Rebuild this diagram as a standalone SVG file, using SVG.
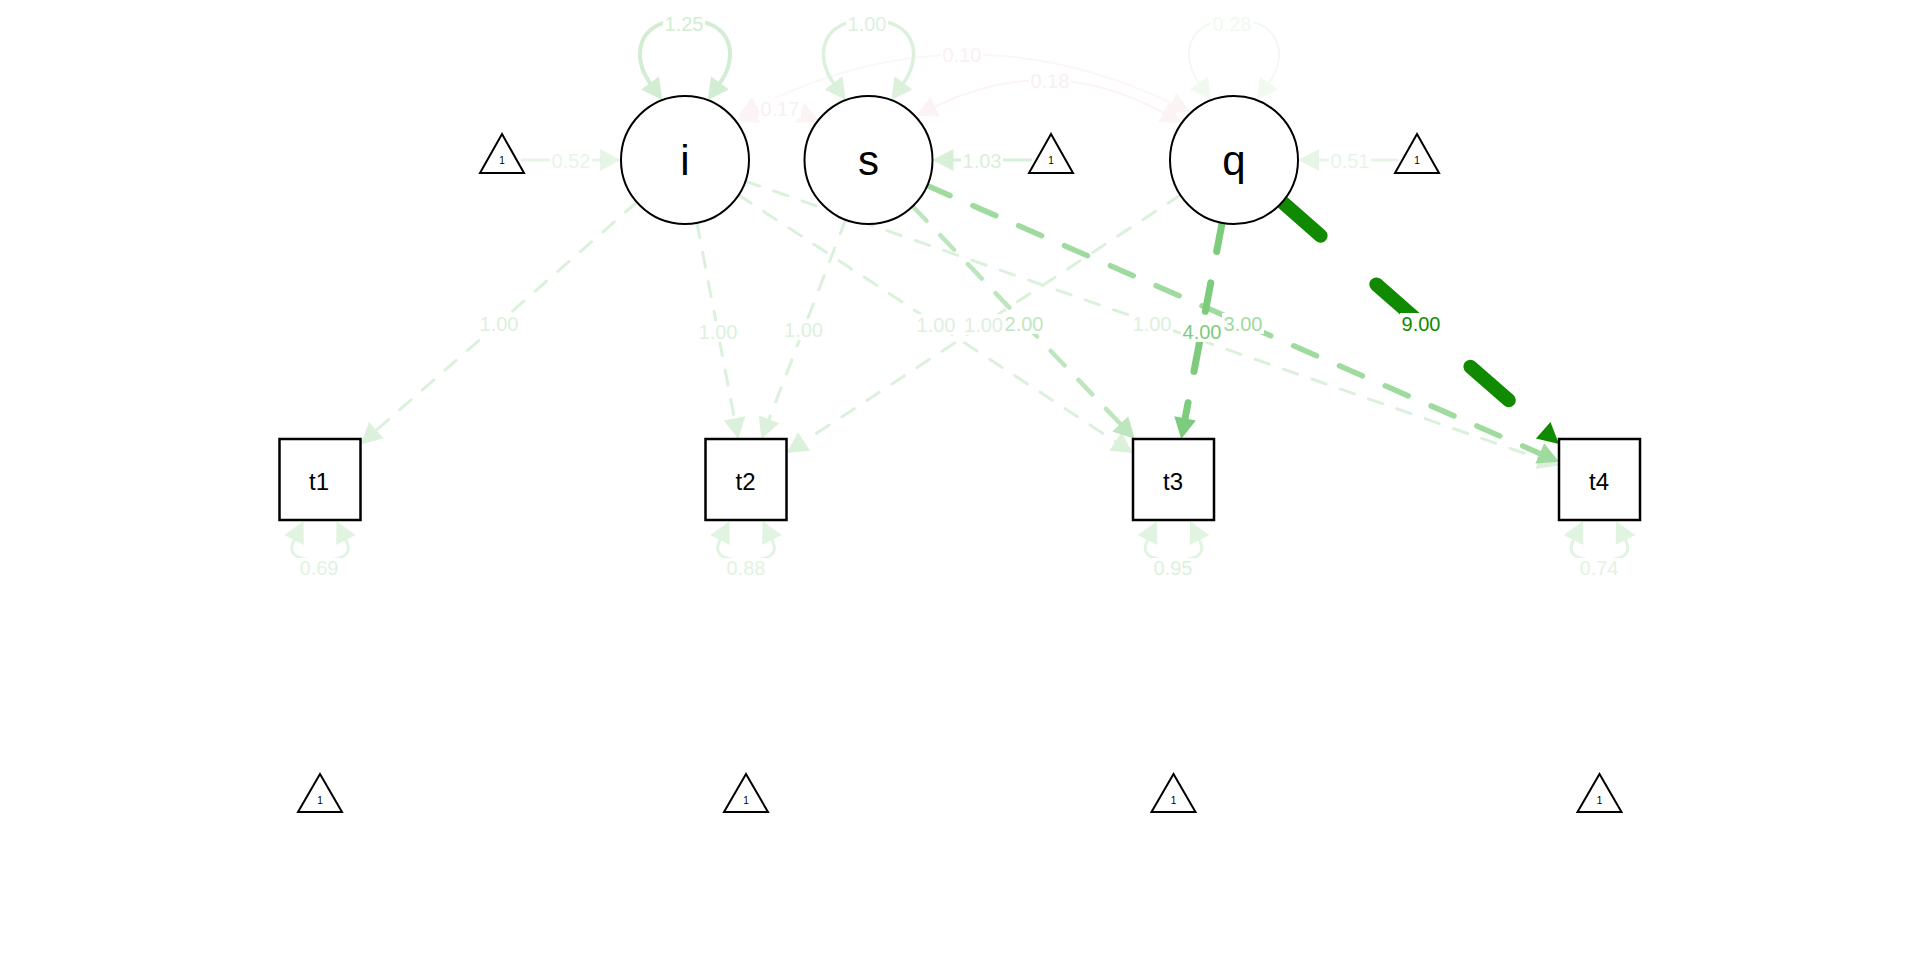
<svg xmlns="http://www.w3.org/2000/svg" width="1920" height="960" viewBox="0 0 1920 960">
  <style>
    text { font-family: "Liberation Sans", Arial, sans-serif; }
    .node { fill: #ffffff; stroke: #000000; stroke-width: 2; }
    .box { fill: #ffffff; stroke: #000000; stroke-width: 2.5; }
    .tri { fill: #ffffff; stroke: #000000; stroke-width: 2; stroke-linejoin: miter; }
    .lat { font-size: 42px; text-anchor: middle; fill: #000; }
    .obs { font-size: 24px; text-anchor: middle; fill: #000; }
    .one { font-size: 10px; text-anchor: middle; fill: #000; }
    .lbl { font-size: 20px; text-anchor: middle; }
    .bg { fill: #ffffff; }
    .e { fill: none; stroke-linecap: round; }
  </style>
  <defs>
    <marker id="m9" markerUnits="userSpaceOnUse" markerWidth="21" markerHeight="22" viewBox="0 -11 21 22" refX="0" refY="0" orient="auto-start-reverse" overflow="visible"><path d="M0,-11 L21,0 L0,11 Z" fill="#108a00"/></marker>
    <marker id="m4" markerUnits="userSpaceOnUse" markerWidth="21" markerHeight="22" viewBox="0 -11 21 22" refX="0" refY="0" orient="auto-start-reverse" overflow="visible"><path d="M0,-11 L21,0 L0,11 Z" fill="#7dcb7d"/></marker>
    <marker id="m3" markerUnits="userSpaceOnUse" markerWidth="21" markerHeight="22" viewBox="0 -11 21 22" refX="0" refY="0" orient="auto-start-reverse" overflow="visible"><path d="M0,-11 L21,0 L0,11 Z" fill="#9fda9f"/></marker>
    <marker id="m2" markerUnits="userSpaceOnUse" markerWidth="21" markerHeight="22" viewBox="0 -11 21 22" refX="0" refY="0" orient="auto-start-reverse" overflow="visible"><path d="M0,-11 L21,0 L0,11 Z" fill="#bee6be"/></marker>
    <marker id="m1" markerUnits="userSpaceOnUse" markerWidth="21" markerHeight="22" viewBox="0 -11 21 22" refX="0" refY="0" orient="auto-start-reverse" overflow="visible"><path d="M0,-11 L21,0 L0,11 Z" fill="#dcf1dc"/></marker>
    <marker id="mi1" markerUnits="userSpaceOnUse" markerWidth="21" markerHeight="22" viewBox="0 -11 21 22" refX="0" refY="0" orient="auto-start-reverse" overflow="visible"><path d="M0,-11 L21,0 L0,11 Z" fill="#d8efd8"/></marker>
    <marker id="mi0" markerUnits="userSpaceOnUse" markerWidth="21" markerHeight="22" viewBox="0 -11 21 22" refX="0" refY="0" orient="auto-start-reverse" overflow="visible"><path d="M0,-11 L21,0 L0,11 Z" fill="#e7f5e7"/></marker>
    <marker id="mv125" markerUnits="userSpaceOnUse" markerWidth="21" markerHeight="22" viewBox="0 -11 21 22" refX="0" refY="0" orient="auto-start-reverse" overflow="visible"><path d="M0,-11 L21,0 L0,11 Z" fill="#d3edd3"/></marker>
    <marker id="mv28" markerUnits="userSpaceOnUse" markerWidth="21" markerHeight="22" viewBox="0 -11 21 22" refX="0" refY="0" orient="auto-start-reverse" overflow="visible"><path d="M0,-11 L21,0 L0,11 Z" fill="#f1f9f1"/></marker>
    <marker id="mr" markerUnits="userSpaceOnUse" markerWidth="21" markerHeight="22" viewBox="0 -11 21 22" refX="0" refY="0" orient="auto-start-reverse" overflow="visible"><path d="M0,-11 L21,0 L0,11 Z" fill="#e1f3e1"/></marker>
    <marker id="mc" markerUnits="userSpaceOnUse" markerWidth="21" markerHeight="22" viewBox="0 -11 21 22" refX="0" refY="0" orient="auto-start-reverse" overflow="visible"><path d="M0,-11 L21,0 L0,11 Z" fill="#fcf4f4"/></marker>
  </defs>

  <rect width="1920" height="960" fill="#ffffff"/>

  <!-- connectors -->
  <g id="edges">
    <!-- covariances between latent factors -->
    <path class="e" d="M757 106.6 Q962 4 1171.5 103" stroke="#fdf6f6" stroke-width="2" marker-start="url(#mc)" marker-end="url(#mc)"/>
    <path class="e" d="M935 106.5 Q1050 50.4 1163.3 112.7" stroke="#fcf4f4" stroke-width="2" marker-start="url(#mc)" marker-end="url(#mc)"/>
    <path class="e" d="M756 113 Q778 104 800 113" stroke="#fcf4f4" stroke-width="2" marker-start="url(#mc)" marker-end="url(#mc)"/>

    <!-- latent variances -->
    <path class="e" d="M650 83 C632 58, 635 20, 685 20 C735 20, 738 58, 720 83" stroke="#d3edd3" stroke-width="4" marker-start="url(#mv125)" marker-end="url(#mv125)"/>
    <path class="e" d="M833.5 83 C815.5 58, 818.5 20, 868.5 20 C918.5 20, 921.5 58, 903.5 83" stroke="#dcf1dc" stroke-width="3.5" marker-start="url(#m1)" marker-end="url(#m1)"/>
    <path class="e" d="M1199 83 C1181 58, 1184 20, 1234 20 C1284 20, 1287 58, 1269 83" stroke="#f1f9f1" stroke-width="2" marker-start="url(#mv28)" marker-end="url(#mv28)"/>

    <!-- intercepts -->
    <path class="e" d="M522 160 L600 160" stroke="#e7f5e7" stroke-width="3" marker-end="url(#mi0)"/>
    <path class="e" d="M1031 160 L953.5 160" stroke="#d8efd8" stroke-width="3" marker-end="url(#mi1)"/>
    <path class="e" d="M1397 160 L1319 160" stroke="#e7f5e7" stroke-width="3" marker-end="url(#mi0)"/>

    <!-- loadings -->
    <path class="e" d="M636.8 202.2 L376.3 430.3" stroke="#dcf1dc" stroke-width="3" stroke-dasharray="15 15" marker-end="url(#m1)"/>
    <path class="e" d="M697 222.9 L734.4 418.4" stroke="#dcf1dc" stroke-width="3" stroke-dasharray="15 15" marker-end="url(#m1)"/>
    <path class="e" d="M738.6 195 L1115.4 441.5" stroke="#dcf1dc" stroke-width="3" stroke-dasharray="15 15" marker-end="url(#m1)"/>
    <path class="e" d="M745.4 181.1 L1539.2 458.5" stroke="#dcf1dc" stroke-width="3" stroke-dasharray="15 15" marker-end="url(#m1)"/>
    <path class="e" d="M845.6 219.8 L769 419.4" stroke="#dcf1dc" stroke-width="3" stroke-dasharray="15 15" marker-end="url(#m1)"/>
    <path class="e" d="M1180.5 195 L804.1 441.5" stroke="#dcf1dc" stroke-width="3" stroke-dasharray="15 15" marker-end="url(#m1)"/>
    <path class="e" d="M912.7 206.3 L1120.3 423.8" stroke="#bee6be" stroke-width="4.5" stroke-dasharray="20 20" marker-end="url(#m2)"/>
    <path class="e" d="M927.1 185.6 L1539.8 453.4" stroke="#9fda9f" stroke-width="5.5" stroke-dasharray="25 25" marker-end="url(#m3)"/>
    <path class="e" d="M1222.1 222.9 L1185.1 418.4" stroke="#7dcb7d" stroke-width="7" stroke-dasharray="29 32" marker-end="url(#m4)"/>
    <path class="e" d="M1282.2 202.1 L1543.2 430.3" stroke="#108a00" stroke-width="14" stroke-dasharray="51 74" marker-end="url(#m9)"/>

    <!-- residual variances -->
    <path class="e" d="M294 540 C288 552, 292 560, 320 560 C348 560, 352 552, 346 540" stroke="#e1f3e1" stroke-width="3" marker-start="url(#mr)" marker-end="url(#mr)"/>
    <path class="e" d="M720 540 C714 552, 718 560, 746 560 C774 560, 778 552, 772 540" stroke="#e1f3e1" stroke-width="3" marker-start="url(#mr)" marker-end="url(#mr)"/>
    <path class="e" d="M1147.5 540 C1141.5 552, 1145.5 560, 1173.5 560 C1201.5 560, 1205.5 552, 1199.5 540" stroke="#e1f3e1" stroke-width="3" marker-start="url(#mr)" marker-end="url(#mr)"/>
    <path class="e" d="M1573.5 540 C1567.5 552, 1571.5 560, 1599.5 560 C1627.5 560, 1631.5 552, 1625.5 540" stroke="#e1f3e1" stroke-width="3" marker-start="url(#mr)" marker-end="url(#mr)"/>

    <!-- edge labels -->
    <g id="edge-labels">
      <rect class="bg" x="941" y="44" width="42" height="20"/><text class="lbl" x="962" y="61.5" fill="#f9f1f1">0.10</text>
      <rect class="bg" x="1029" y="70" width="42" height="20"/><text class="lbl" x="1050" y="88" fill="#f8f0f0">0.18</text>
      <rect class="bg" x="759" y="98" width="42" height="20"/><text class="lbl" x="780" y="116" fill="#f8f0f0">0.17</text>

      <rect class="bg" x="663" y="13" width="42" height="20"/><text class="lbl" x="684" y="30.5" fill="#d3edd3">1.25</text>
      <rect class="bg" x="846" y="13" width="42" height="20"/><text class="lbl" x="867" y="30.5" fill="#dcf1dc">1.00</text>
      <rect class="bg" x="1211" y="13" width="42" height="20"/><text class="lbl" x="1232" y="30.5" fill="#f1f9f1">0.28</text>

      <rect class="bg" x="550" y="150" width="42" height="20"/><text class="lbl" x="571" y="167.5" fill="#e7f5e7">0.52</text>
      <rect class="bg" x="961" y="150" width="42" height="20"/><text class="lbl" x="982" y="167.5" fill="#d8efd8">1.03</text>
      <rect class="bg" x="1329" y="150" width="42" height="20"/><text class="lbl" x="1350" y="167.5" fill="#e7f5e7">0.51</text>

      <rect class="bg" x="478" y="313" width="42" height="21"/><text class="lbl" x="499" y="330.5" fill="#dcf1dc">1.00</text>
      <rect class="bg" x="697" y="321" width="42" height="21"/><text class="lbl" x="718" y="338.5" fill="#dcf1dc">1.00</text>
      <rect class="bg" x="782" y="319" width="42" height="21"/><text class="lbl" x="803.5" y="337" fill="#dcf1dc">1.00</text>
      <rect class="bg" x="915" y="314" width="42" height="21"/><text class="lbl" x="936" y="331.5" fill="#dcf1dc">1.00</text>
      <rect class="bg" x="962" y="314" width="42" height="21"/><text class="lbl" x="983.5" y="331.5" fill="#dcf1dc">1.00</text>
      <rect class="bg" x="1003" y="313" width="42" height="21"/><text class="lbl" x="1024" y="330.5" fill="#bee6be">2.00</text>
      <rect class="bg" x="1131" y="313" width="42" height="21"/><text class="lbl" x="1152" y="331" fill="#dcf1dc">1.00</text>
      <rect class="bg" x="1181" y="321" width="42" height="21"/><text class="lbl" x="1202" y="338.5" fill="#7dcb7d">4.00</text>
      <rect class="bg" x="1222" y="313" width="42" height="21"/><text class="lbl" x="1243" y="331" fill="#9fda9f">3.00</text>
      <rect class="bg" x="1400" y="313" width="42" height="21"/><text class="lbl" x="1421" y="331" fill="#108a00">9.00</text>

      <rect class="bg" x="298" y="558" width="42" height="20"/><text class="lbl" x="319" y="575" fill="#e1f3e1">0.69</text>
      <rect class="bg" x="725" y="558" width="42" height="20"/><text class="lbl" x="746" y="575" fill="#e1f3e1">0.88</text>
      <rect class="bg" x="1152" y="558" width="42" height="20"/><text class="lbl" x="1173" y="575" fill="#ddf1dd">0.95</text>
      <rect class="bg" x="1578" y="558" width="42" height="20"/><text class="lbl" x="1599" y="575" fill="#e1f3e1">0.74</text>
    </g>
  </g>

  <!-- latent factors -->
  <g id="node-i"><circle class="node" cx="685" cy="160" r="64"/><text class="lat" x="685" y="175">i</text></g>
  <g id="node-s"><circle class="node" cx="868.5" cy="160" r="64"/><text class="lat" x="868.5" y="175">s</text></g>
  <g id="node-q"><circle class="node" cx="1234" cy="160" r="64"/><text class="lat" x="1234" y="175">q</text></g>

  <!-- intercept constants for the factors -->
  <g id="node-one-i"><polygon class="tri" points="502,134 524,173 480,173"/><text class="one" x="502" y="164">1</text></g>
  <g id="node-one-s"><polygon class="tri" points="1051,134 1073,173 1029,173"/><text class="one" x="1051" y="164">1</text></g>
  <g id="node-one-q"><polygon class="tri" points="1417,134 1439,173 1395,173"/><text class="one" x="1417" y="164">1</text></g>

  <!-- observed measures -->
  <g id="node-t1"><rect class="box" x="279.5" y="439" width="81" height="81"/><text class="obs" x="319" y="490">t1</text></g>
  <g id="node-t2"><rect class="box" x="705.5" y="439" width="81" height="81"/><text class="obs" x="745.5" y="490">t2</text></g>
  <g id="node-t3"><rect class="box" x="1133" y="439" width="81" height="81"/><text class="obs" x="1173" y="490">t3</text></g>
  <g id="node-t4"><rect class="box" x="1559" y="439" width="81" height="81"/><text class="obs" x="1599" y="490">t4</text></g>

  <!-- intercept constants for the measures -->
  <g id="node-one-t1"><polygon class="tri" points="320,774 342,812 298,812"/><text class="one" x="320" y="804">1</text></g>
  <g id="node-one-t2"><polygon class="tri" points="746,774 768,812 724,812"/><text class="one" x="746" y="804">1</text></g>
  <g id="node-one-t3"><polygon class="tri" points="1173.5,774 1195.5,812 1151.5,812"/><text class="one" x="1173.5" y="804">1</text></g>
  <g id="node-one-t4"><polygon class="tri" points="1599.5,774 1621.5,812 1577.5,812"/><text class="one" x="1599.5" y="804">1</text></g>
</svg>
